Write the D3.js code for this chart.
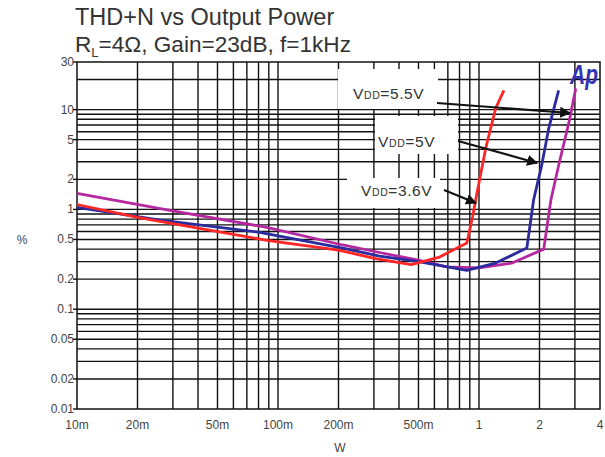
<!DOCTYPE html>
<html>
<head>
<meta charset="utf-8">
<script src="https://cdn.jsdelivr.net/npm/d3@7"></script>
<style>
  body { margin: 0; background: #fff; }
  text { font-family: "Liberation Sans", Arial, sans-serif; }
</style>
</head>
<body>
<div id="chart"></div>
<script>
// curve data: [watts, percent]
var vdd36 = [[0.01,1.12],[0.02,0.83],[0.04,0.65],[0.088,0.49],[0.2,0.39],[0.31,0.32],[0.46,0.28],[0.63,0.33],[0.87,0.46],[0.93,0.85],[0.97,1.35],[1.08,4.1],[1.21,10.3],[1.33,15.6]];
var vdd5 = [[0.01,1.05],[0.026,0.78],[0.081,0.59],[0.21,0.41],[0.32,0.34],[0.5,0.3],[0.87,0.245],[1.21,0.29],[1.73,0.41],[1.87,1.25],[2.05,2.75],[2.22,6.4],[2.49,15.6]];
var vdd55 = [[0.01,1.45],[0.029,0.98],[0.088,0.66],[0.21,0.44],[0.32,0.37],[0.5,0.31],[0.69,0.265],[1.0,0.26],[1.46,0.29],[2.1,0.4],[2.28,1.25],[2.49,2.75],[2.8,7.4],[3.03,16.3]];

var xTicks = [0.01, 0.02, 0.05, 0.1, 0.2, 0.5, 1, 2, 4];
var xTickLabels = ["10m", "20m", "50m", "100m", "200m", "500m", "1", "2", "4"];
var yTicks = [30, 10, 5, 2, 1, 0.5, 0.2, 0.1, 0.05, 0.02, 0.01];
var yTickLabels = ["30", "10", "5", "2", "1", "0.5", "0.2", "0.1", "0.05", "0.02", "0.01"];
var xGrid = [0.02,0.03,0.04,0.05,0.06,0.07,0.08,0.09,0.1,0.2,0.3,0.4,0.5,0.6,0.7,0.8,0.9,1,2,3];
var yGrid = [20,10,9,8,7,6,5,4,3,2,1,0.9,0.8,0.7,0.6,0.5,0.4,0.3,0.2,0.1,0.09,0.08,0.07,0.06,0.05,0.04,0.03,0.02];

var W = 605, H = 457;
var pLeft = 77, pRight = 600, pTop = 62, pBottom = 409;

var svg = d3.select("#chart").append("svg")
    .attr("width", W)
    .attr("height", H);

var x = d3.scaleLog().domain([0.01, 4]).range([pLeft, pRight]);
var y = d3.scaleLog().domain([0.01, 30]).range([pBottom, pTop]);

// titles
svg.append("text")
    .attr("x", 75).attr("y", 25)
    .attr("font-size", 23.5)
    .attr("fill", "#333")
    .text("THD+N vs Output Power");

var t2 = svg.append("text")
    .attr("x", 75).attr("y", 52)
    .attr("font-size", 22.6)
    .attr("fill", "#333");
t2.append("tspan").text("R");
t2.append("tspan").attr("font-size", 13).attr("dy", 5).text("L");
t2.append("tspan").attr("dy", -5).text("=4Ω, Gain=23dB, f=1kHz");

// grid
var grid = svg.append("g").attr("stroke", "#111").attr("stroke-width", 1.4);

grid.selectAll(".gx")
    .data(xGrid)
    .enter()
    .append("line")
    .attr("x1", function(d) { return x(d); })
    .attr("x2", function(d) { return x(d); })
    .attr("y1", pTop).attr("y2", pBottom);

grid.selectAll(".gy")
    .data(yGrid)
    .enter()
    .append("line")
    .attr("x1", pLeft).attr("x2", pRight)
    .attr("y1", function(d) { return y(d); })
    .attr("y2", function(d) { return y(d); });

// small ticks left of the y axis
grid.selectAll(".ty")
    .data(yTicks)
    .enter()
    .append("line")
    .attr("x1", pLeft - 4).attr("x2", pLeft)
    .attr("y1", function(d) { return y(d); })
    .attr("y2", function(d) { return y(d); });

// frame
svg.append("rect")
    .attr("x", pLeft).attr("y", pTop)
    .attr("width", pRight - pLeft).attr("height", pBottom - pTop)
    .attr("fill", "none")
    .attr("stroke", "#111")
    .attr("stroke-width", 1.5);

// label boxes hide the grid behind them
var boxes = [[338, 69, 100, 40], [375, 116, 83, 38], [347, 178, 93, 30]];
svg.selectAll(".box")
    .data(boxes)
    .enter()
    .append("rect")
    .attr("x", function(d) { return d[0]; })
    .attr("y", function(d) { return d[1]; })
    .attr("width", function(d) { return d[2]; })
    .attr("height", function(d) { return d[3]; })
    .attr("fill", "#fff");

// tick labels
svg.selectAll(".yl")
    .data(yTicks)
    .enter()
    .append("text")
    .attr("x", pLeft - 3)
    .attr("y", function(d) { return y(d) + 4; })
    .attr("text-anchor", "end")
    .attr("font-size", 12)
    .attr("fill", "#444")
    .text(function(d, i) { return yTickLabels[i]; });

svg.selectAll(".xl")
    .data(xTicks)
    .enter()
    .append("text")
    .attr("x", function(d) { return x(d); })
    .attr("y", 429)
    .attr("text-anchor", "middle")
    .attr("font-size", 12)
    .attr("fill", "#444")
    .text(function(d, i) { return xTickLabels[i]; });

svg.append("text")
    .attr("x", 22).attr("y", 244)
    .attr("text-anchor", "middle")
    .attr("font-size", 12)
    .attr("fill", "#444")
    .text("%");

svg.append("text")
    .attr("x", 340).attr("y", 452)
    .attr("text-anchor", "middle")
    .attr("font-size", 12)
    .attr("fill", "#444")
    .text("W");

// curves
var line = d3.line()
    .x(function(d) { return x(d[0]); })
    .y(function(d) { return y(d[1]); });

var series = [
    { data: vdd55, color: "#b5289f" },
    { data: vdd5, color: "#2b2b9e" },
    { data: vdd36, color: "#ff2626" }
];

svg.selectAll(".curve")
    .data(series)
    .enter()
    .append("path")
    .attr("d", function(d) { return line(d.data); })
    .attr("fill", "none")
    .attr("stroke", function(d) { return d.color; })
    .attr("stroke-width", 2.8)
    .attr("stroke-linejoin", "round");

// annotations
svg.append("defs").append("marker")
    .attr("id", "head")
    .attr("viewBox", "0 0 10 10")
    .attr("refX", 9).attr("refY", 5)
    .attr("markerWidth", 5).attr("markerHeight", 5)
    .attr("orient", "auto")
    .append("path")
    .attr("d", "M0,0 L10,5 L0,10 z")
    .attr("fill", "#111");

var notes = [
    { v: "5.5V", tx: 353, ty: 99, x1: 437, y1: 103, x2: 570, y2: 113 },
    { v: "5V", tx: 378, ty: 147, x1: 458, y1: 141, x2: 537, y2: 163 },
    { v: "3.6V", tx: 361, ty: 196, x1: 444, y1: 190, x2: 476, y2: 203 }
];

notes.forEach(function(n) {
    var t = svg.append("text")
        .attr("x", n.tx).attr("y", n.ty)
        .attr("font-size", 15.5)
        .attr("letter-spacing", 0.6)
        .attr("fill", "#333");
    t.append("tspan").text("V");
    t.append("tspan").attr("font-size", 10.5).text("DD");
    t.append("tspan").text("=" + n.v);

    svg.append("line")
        .attr("x1", n.x1).attr("y1", n.y1)
        .attr("x2", n.x2).attr("y2", n.y2)
        .attr("stroke", "#111")
        .attr("stroke-width", 2.2)
        .attr("marker-end", "url(#head)");
});

// Ap logo
svg.append("text")
    .attr("x", 570).attr("y", 84)
    .attr("font-size", 27)
    .attr("font-weight", "bold")
    .attr("font-style", "italic")
    .attr("fill", "#3434b0")
    .attr("textLength", 28)
    .attr("lengthAdjust", "spacingAndGlyphs")
    .text("Ap");
</script>
</body>
</html>
